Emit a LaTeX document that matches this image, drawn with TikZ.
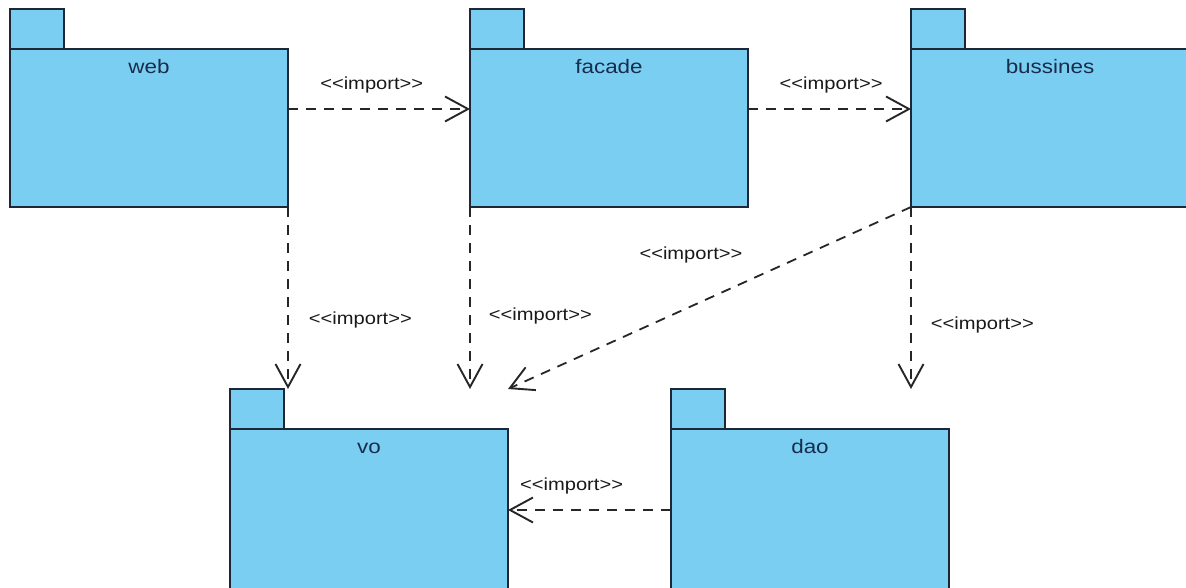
\documentclass[tikz,border=0pt]{standalone}
\usepackage{fontspec}
\usepackage{xcolor}
\usepackage{tikz}
\usetikzlibrary{positioning,arrows.meta}

\newfontfamily\umlfont[FakeStretch=1.15]{Liberation Sans}
\definecolor{pkgfill}{RGB}{122,206,242}
\definecolor{pkgline}{RGB}{28,40,56}
\definecolor{pkgtext}{RGB}{24,44,76}

\begin{document}
\begin{tikzpicture}[
    x = 1pt, y = -1pt,
    package/.style = {draw=pkgline, fill=pkgfill, line width=1.9pt, outer sep=0pt, inner sep=0pt,
                      minimum width=278pt, minimum height=158pt},
    pkgtab/.style  = {draw=pkgline, fill=pkgfill, line width=1.9pt, outer sep=0pt, inner sep=0pt,
                      minimum width=54pt, minimum height=40pt},
    pkgname/.style = {font=\umlfont\fontsize{19.5}{22}\selectfont, text=pkgtext, inner sep=0pt,
                      text height=15pt, text depth=4pt},
    import/.style  = {draw=black!85, line width=1.8pt, dash pattern=on 10pt off 8pt,
                      -{Straight Barb[length=23pt,width=25pt,line width=1.9pt]}},
    stereo/.style  = {font=\umlfont\fontsize{17.5}{20}\selectfont, text=black!90, inner sep=0pt}
  ]
\useasboundingbox (0,0) rectangle (1186,588);

\node[package] (web)      at (149,128) {};
\node[package] (facade)   at (609,128) {};
\node[package] (bussines) at (1050,128) {};
\node[package, minimum height=162pt] (vo)  at (369,510) {};
\node[package, minimum height=162pt] (dao) at (810,510) {};

\node[pkgtab, above right=0pt and 0pt of web.north west]      (webtab)      {};
\node[pkgtab, above right=0pt and 0pt of facade.north west]   (facadetab)   {};
\node[pkgtab, above right=0pt and 0pt of bussines.north west] (bussinestab) {};
\node[pkgtab, above right=0pt and 0pt of vo.north west]       (votab)       {};
\node[pkgtab, above right=0pt and 0pt of dao.north west]      (daotab)      {};

\node[pkgname, below=9pt of web.north]      (webname)      {web};
\node[pkgname, below=9pt of facade.north]   (facadename)   {facade};
\node[pkgname, below=9pt of bussines.north] (bussinesname) {bussines};
\node[pkgname, below=9pt of vo.north]       (voname)       {vo};
\node[pkgname, below=9pt of dao.north]      (daoname)      {dao};

\draw[import] ([yshift=19pt]web.east) -- node[stereo, pos=.46, yshift=24pt] (webfacade) {<<import>>} ([yshift=19pt]facade.west);
\draw[import] ([yshift=19pt]facade.east) -- node[stereo, pos=.51, yshift=24pt] (facadebussines) {<<import>>} ([yshift=19pt]bussines.west);
\draw[import] (web.south east) -- node[stereo, pos=.62, anchor=west, xshift=20pt] (webvo) {<<import>>} (web.south east |- votab.north);
\draw[import] (facade.south west) -- node[stereo, pos=.6, anchor=west, xshift=18pt] (facadevo) {<<import>>} (facade.south west |- votab.north);
\draw[import] (bussines.south west) -- node[stereo, pos=.546, yshift=51pt] (bussinesvo) {<<import>>} (vo.north east |- votab.north);
\draw[import] (bussines.south west) -- node[stereo, pos=.65, anchor=west, xshift=19pt] (bussinesdao) {<<import>>} (bussines.south west |- daotab.north);
\draw[import] (dao.west) -- node[stereo, pos=.61, yshift=24pt] (daovo) {<<import>>} (dao.west -| vo.east);

\end{tikzpicture}
\end{document}
